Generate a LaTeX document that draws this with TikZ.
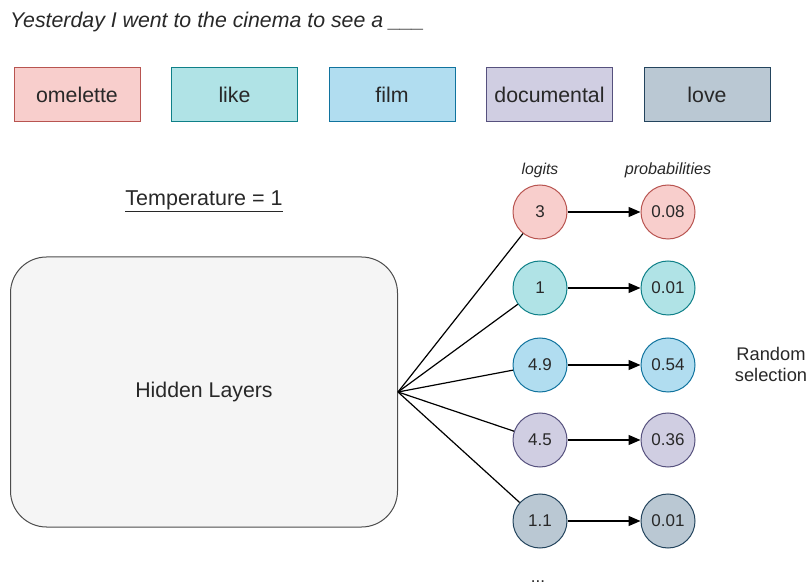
\documentclass[tikz,border=0pt]{standalone}
\usepackage{fontspec}
\setmainfont{Liberation Sans}
\usepackage{tikz}
\usetikzlibrary{positioning, arrows.meta}
\definecolor{textColor}{RGB}{40, 40, 40}
\definecolor{rojoFill}{HTML}{F8CECC}
\definecolor{rojoLine}{HTML}{B85450}
\definecolor{turquesaFill}{HTML}{B0E3E6}
\definecolor{turquesaLine}{HTML}{0E8088}
\definecolor{azulFill}{HTML}{B1DDF0}
\definecolor{azulLine}{HTML}{10739E}
\definecolor{lilaFill}{HTML}{D0CEE2}
\definecolor{lilaLine}{HTML}{56517E}
\definecolor{grisFill}{HTML}{BAC8D3}
\definecolor{grisLine}{HTML}{23445D}

\begin{document}
\begin{tikzpicture}[
        x=1pt, y=-1pt,
        node distance=30pt,
        palabra/.style={
            rectangle,
            line width=1pt,
            minimum width=126pt,
            minimum height=54pt,
            inner sep=0pt,
            text=textColor,
            font=\fontsize{21.3}{25}\selectfont
        },
        capa/.style={
            rectangle,
            rounded corners=36pt,
            draw=black!70,
            fill=black!4,
            line width=1pt,
            minimum width=387pt,
            minimum height=270pt,
            text=textColor,
            font=\fontsize{21.3}{25}\selectfont
        },
        valor/.style={
            circle,
            line width=1pt,
            minimum size=54pt,
            inner sep=0pt,
            text=textColor,
            font=\fontsize{17}{20}\selectfont
        },
        etiqueta/.style={
            text=textColor,
            font=\fontsize{15.7}{18}\selectfont\itshape
        },
        flecha/.style={
            -{Triangle[length=12pt, width=10pt]},
            line width=1.2pt
        },
        linea/.style={
            line width=1.2pt
        }
    ]

        \useasboundingbox (0,0) rectangle (807,588);

        \node[anchor=base west, inner sep=0pt, text=textColor, font=\fontsize{21.3}{25}\selectfont\itshape] (frase) at (10,28) {Yesterday I went to the cinema to see a \_\_\_};

        \node[palabra, fill=rojoFill, draw=rojoLine] (omelette) at (77,95) {omelette};
        \node[palabra, fill=turquesaFill, draw=turquesaLine, right=30.5pt of omelette] (like) {like};
        \node[palabra, fill=azulFill, draw=azulLine, right=30.5pt of like] (film) {film};
        \node[palabra, fill=lilaFill, draw=lilaLine, right=30.5pt of film] (documental) {documental};
        \node[palabra, fill=grisFill, draw=grisLine, right=30.5pt of documental] (love) {love};

        \node[text=textColor, font=\fontsize{21.5}{25}\selectfont] (temp) at (204,201) {\underline{Temperature = 1}};

        \node[capa] (hidden) at (204,392) {Hidden Layers};

        \node[valor, fill=rojoFill, draw=rojoLine] (l1) at (540,212) {3};
        \node[valor, fill=turquesaFill, draw=turquesaLine] (l2) at (540,288) {1};
        \node[valor, fill=azulFill, draw=azulLine] (l3) at (540,365) {4.9};
        \node[valor, fill=lilaFill, draw=lilaLine] (l4) at (540,440) {4.5};
        \node[valor, fill=grisFill, draw=grisLine] (l5) at (540,521) {1.1};

        \node[valor, fill=rojoFill, draw=rojoLine, right=73pt of l1] (p1) {0.08};
        \node[valor, fill=turquesaFill, draw=turquesaLine, right=73pt of l2] (p2) {0.01};
        \node[valor, fill=azulFill, draw=azulLine, right=73pt of l3] (p3) {0.54};
        \node[valor, fill=lilaFill, draw=lilaLine, right=73pt of l4] (p4) {0.36};
        \node[valor, fill=grisFill, draw=grisLine, right=73pt of l5] (p5) {0.01};

        \node[etiqueta, above=3pt of l1] (logits) {logits};
        \node[etiqueta, font=\fontsize{16.2}{18}\selectfont\itshape, above=3pt of p1] (probs) {probabilities};

        \node[align=center, text=textColor, font=\fontsize{18.3}{21}\selectfont] (random) at (771,364) {Random\\selection};
        \node[anchor=base, inner sep=0pt, text=textColor, font=\fontsize{17}{20}\selectfont] (puntos) at (538,582) {...};

        \draw[linea] (hidden.east) -- (l1);
        \draw[linea] (hidden.east) -- (l2);
        \draw[linea] (hidden.east) -- (l3);
        \draw[linea] (hidden.east) -- (l4);
        \draw[linea] (hidden.east) -- (l5);

        \draw[flecha] (l1) -- (p1);
        \draw[flecha] (l2) -- (p2);
        \draw[flecha] (l3) -- (p3);
        \draw[flecha] (l4) -- (p4);
        \draw[flecha] (l5) -- (p5);

    \end{tikzpicture}
\end{document}
